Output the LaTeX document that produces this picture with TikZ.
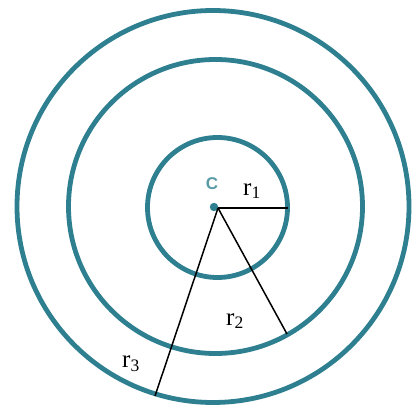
\documentclass[tikz,border=0pt]{standalone}
\usepackage{fontspec}
\setmainfont{Liberation Serif}
\setsansfont{Liberation Sans}
\definecolor{ringteal}{HTML}{2E8090}
\begin{document}
\begin{tikzpicture}[x=1pt,y=-1pt,
  ring/.style={draw=ringteal,line width=4.8pt},
  radius line/.style={draw=black,line width=1.5pt},
  lbl/.style={font=\fontsize{25}{28}\selectfont,inner sep=0pt}]
\useasboundingbox (0,0) rectangle (412,411);
\path[ring] (213,206.5) circle[radius=196];
\path[ring] (215.5,206.5) circle[radius=147];
\path[ring] (217.5,207.5) circle[radius=70];
\fill[ringteal] (214,207) circle[radius=4.2];
\node[font=\sffamily\bfseries\fontsize{17}{19}\selectfont,text=ringteal!80,inner sep=0pt] (clabel) at (212,184) {C};
\coordinate (c) at (218,208);
\coordinate (e1) at (288,208);
\coordinate (e2) at (287,334);
\coordinate (e3) at (155,396);
\draw[radius line] (c) -- (e1);
\draw[radius line] (c) -- (e2);
\draw[radius line] (c) -- (e3);
\node[lbl] (l1) at (252,191) {r\textsubscript{1}};
\node[lbl] (l2) at (235,321) {r\textsubscript{2}};
\node[lbl] (l3) at (131,364) {r\textsubscript{3}};
\end{tikzpicture}
\end{document}
